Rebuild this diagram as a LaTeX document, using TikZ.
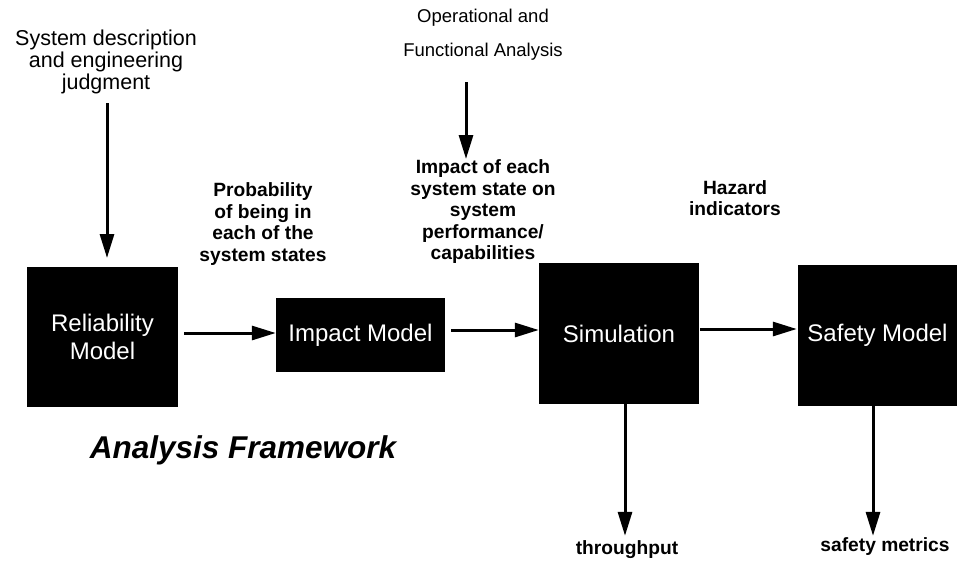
\documentclass[tikz,border=0pt]{standalone}
\usepackage{fontspec}
\setmainfont{Liberation Sans}
\usetikzlibrary{arrows.meta}
\begin{document}
\begin{tikzpicture}[x=1pt,y=-1pt,
  box/.style={fill=black,draw=none,text=white,inner sep=0pt,align=center,
     font=\fontsize{24}{28}\selectfont},
  toplabel/.style={align=center,inner sep=0pt,font=\fontsize{21.5}{22}\selectfont},
  midlabel/.style={align=center,inner sep=0pt,font=\bfseries\fontsize{19.2}{21.5}\selectfont},
  arr/.style={line width=3pt,-{Triangle[length=24pt,width=14pt]}}]
\useasboundingbox (0,0) rectangle (957,563);
% boxes
\node[box,minimum width=151pt,minimum height=140pt] (rel) at (102.5,337) {Reliability\\Model};
\node[box,minimum width=169pt,minimum height=74pt] (imp) at (360.5,335) {Impact Model};
\node[box,minimum width=160pt,minimum height=141pt] (sim) at (619,333.5) {Simulation};
\node[box,minimum width=159pt,minimum height=141pt] (saf) at (877.5,335.5) {Safety Model};
% labels
\node[toplabel] (sys) at (106,62) {System description\\and engineering\\judgment};
\node[toplabel,font=\fontsize{18.5}{34}\selectfont] (ops) at (483,35) {Operational and\\Functional Analysis};
\node[midlabel] (prob) at (263,224) {Probability\\of being in\\each of the\\system states};
\node[midlabel] (impl) at (483,212) {Impact of each\\system state on\\system\\performance/\\capabilities};
\node[midlabel] (haz) at (735,198) {Hazard\\indicators};
\node[midlabel] (thr) at (627,550) {throughput};
\node[midlabel] (met) at (885,547) {safety metrics};
\node[inner sep=0pt,font=\bfseries\itshape\fontsize{31.5}{36}\selectfont] (af) at (243,450) {Analysis Framework};
% connector end points
\coordinate (s1) at (107,103);
\coordinate (e1) at (107,258);
\coordinate (s2) at (466,82);
\coordinate (e2) at (466,159);
% connectors
\draw[arr] (s1) -- (e1);
\draw[arr] (s2) -- (e2);
\draw[arr,shorten <=6pt] (rel.east |- 0,333) -- (imp.west |- 0,333);
\draw[arr,shorten <=6pt] (imp.east |- 0,330) -- (sim.west |- 0,330);
\draw[arr,shorten <=1pt,shorten >=1pt] (sim.east |- 0,329) -- (saf.west |- 0,329);
\draw[arr,shorten >=5pt] (sim.south -| 625,0) -- (thr.north -| 625,0);
\draw[arr,shorten >=2pt] (saf.south -| 873,0) -- (met.north -| 873,0);
\end{tikzpicture}
\end{document}
